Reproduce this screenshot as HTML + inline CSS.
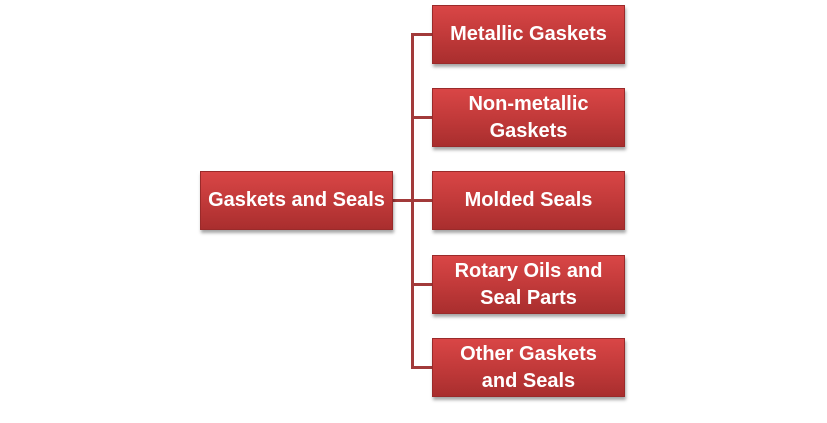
<!DOCTYPE html>
<html><head><style>
body{margin:0;width:827px;height:423px;background:#fff;position:relative;overflow:hidden;font-family:"Liberation Sans",Arial,sans-serif}
.b{position:absolute;width:193px;height:59px;background:linear-gradient(#d94646,#c23a3a 50%,#a92e2e);border:1px solid #9a2a2a;box-sizing:border-box;color:#fff;font-weight:bold;font-size:20px;display:flex;align-items:center;justify-content:center;text-align:center;line-height:27px;box-shadow:1px 3px 3px rgba(0,0,0,.35)}
.l{position:absolute;background:#a23a3a}
</style></head><body>
<div class="l" style="left:411px;top:33px;width:3px;height:336px"></div>
<div class="l" style="left:393px;top:199px;width:39px;height:3px"></div>
<div class="l" style="left:411px;top:33px;width:21px;height:3px"></div>
<div class="l" style="left:411px;top:116px;width:21px;height:3px"></div>
<div class="l" style="left:411px;top:283px;width:21px;height:3px"></div>
<div class="l" style="left:411px;top:366px;width:21px;height:3px"></div>
<div class="b" style="left:200px;top:171px">Gaskets and Seals</div>
<div class="b" style="left:432px;top:5px">Metallic Gaskets</div>
<div class="b" style="left:432px;top:88px">Non-metallic<br>Gaskets</div>
<div class="b" style="left:432px;top:171px">Molded Seals</div>
<div class="b" style="left:432px;top:255px">Rotary Oils and<br>Seal Parts</div>
<div class="b" style="left:432px;top:338px">Other Gaskets<br>and Seals</div>
</body></html>
